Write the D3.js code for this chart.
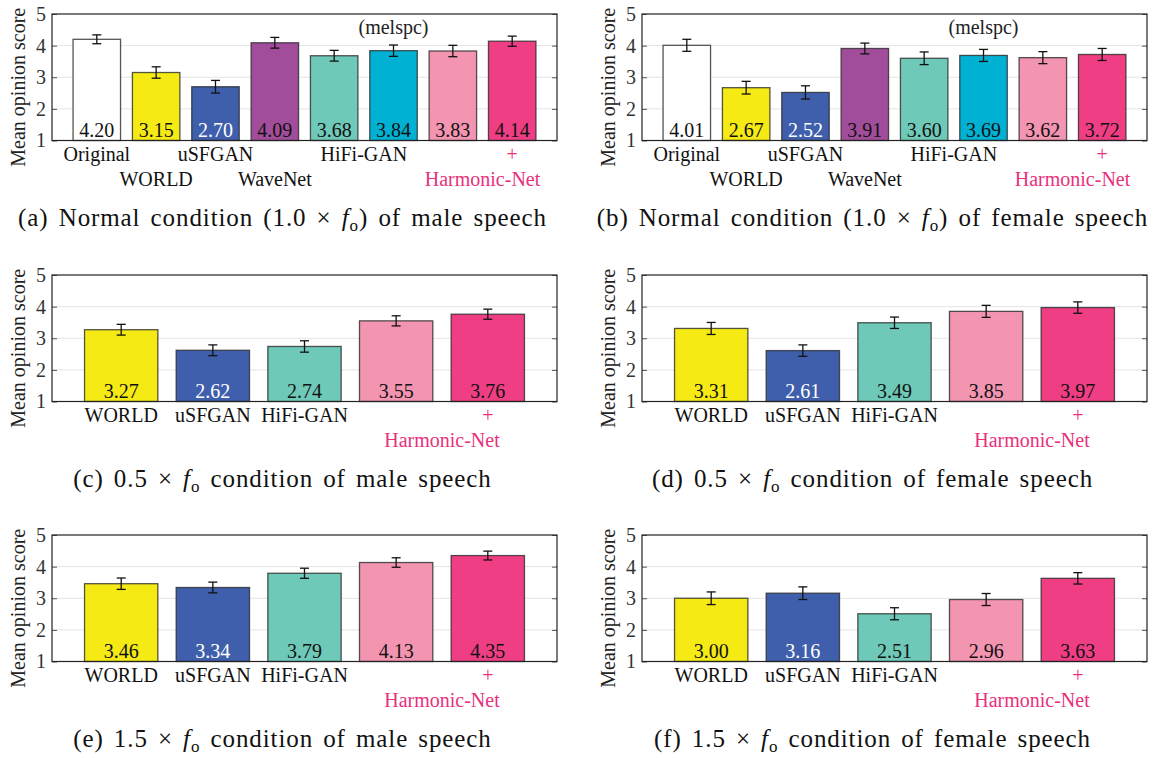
<!DOCTYPE html>
<html>
<head>
<meta charset="utf-8">
<script src="https://cdn.jsdelivr.net/npm/d3@7"></script>
<style>
  html, body { margin: 0; padding: 0; background: #fff; }
  svg { display: block; }
  text { font-family: "Liberation Serif", "Times New Roman", serif; }
</style>
</head>
<body>
<svg id="chart" width="1155" height="758"></svg>
<script>
// ---------- DATA ----------
const methods8 = ["Original", "WORLD", "uSFGAN", "WaveNet", "HiFi-GAN", "HiFi-GAN (melspc)", "Harmonic-Net", "Harmonic-Net+"];
const methods5 = ["WORLD", "uSFGAN", "HiFi-GAN", "Harmonic-Net", "Harmonic-Net+"];

const scoresA = [4.20, 3.15, 2.70, 4.09, 3.68, 3.84, 3.83, 4.14];
const errA    = [0.14, 0.18, 0.20, 0.17, 0.17, 0.18, 0.18, 0.16];
const scoresB = [4.01, 2.67, 2.52, 3.91, 3.60, 3.69, 3.62, 3.72];
const errB    = [0.19, 0.20, 0.21, 0.17, 0.20, 0.19, 0.19, 0.19];
const scoresC = [3.27, 2.62, 2.74, 3.55, 3.76];
const errC    = [0.17, 0.17, 0.18, 0.16, 0.16];
const scoresD = [3.31, 2.61, 3.49, 3.85, 3.97];
const errD    = [0.19, 0.18, 0.18, 0.19, 0.18];
const scoresE = [3.46, 3.34, 3.79, 4.13, 4.35];
const errE    = [0.18, 0.17, 0.16, 0.15, 0.14];
const scoresF = [3.00, 3.16, 2.51, 2.96, 3.63];
const errF    = [0.20, 0.20, 0.19, 0.19, 0.18];

const yTicks = [1, 2, 3, 4, 5];
const yLabel = "Mean opinion score";

// x-axis labels: [text, position (bar index, may be fractional), row, highlighted]
const xLabels8 = [
  ["Original", 0, 1, false], ["WORLD", 1, 2, false], ["uSFGAN", 2, 1, false],
  ["WaveNet", 3, 2, false], ["HiFi-GAN", 4.5, 1, false], ["+", 7, 1, true],
  ["Harmonic-Net", 6.5, 2, true]
];
const xLabels5 = [
  ["WORLD", 0, 1, false], ["uSFGAN", 1, 1, false], ["HiFi-GAN", 2, 1, false],
  ["+", 4, 1, true], ["Harmonic-Net", 3.5, 2, true]
];

const captions = [
  ["(a) Normal condition (1.0 × ", ") of male speech"],
  ["(b) Normal condition (1.0 × ", ") of female speech"],
  ["(c) 0.5 × ", " condition of male speech"],
  ["(d) 0.5 × ", " condition of female speech"],
  ["(e) 1.5 × ", " condition of male speech"],
  ["(f) 1.5 × ", " condition of female speech"]
];

// ---------- STYLE ----------
const colors = {
  "Original": "#ffffff",
  "WORLD": "#f5ea14",
  "uSFGAN": "#3f5fac",
  "WaveNet": "#a24d9b",
  "HiFi-GAN": "#6ec9b8",
  "HiFi-GAN (melspc)": "#00b1d3",
  "Harmonic-Net": "#f394b1",
  "Harmonic-Net+": "#ef3e83"
};
const whiteText = new Set(["uSFGAN"]);
const pink = "#e8307c";

const panels = [
  { cats: methods8, vals: scoresA, errs: errA, labels: xLabels8, col: 0, row: 0, note: true },
  { cats: methods8, vals: scoresB, errs: errB, labels: xLabels8, col: 1, row: 0, note: true },
  { cats: methods5, vals: scoresC, errs: errC, labels: xLabels5, col: 0, row: 1 },
  { cats: methods5, vals: scoresD, errs: errD, labels: xLabels5, col: 1, row: 1 },
  { cats: methods5, vals: scoresE, errs: errE, labels: xLabels5, col: 0, row: 2 },
  { cats: methods5, vals: scoresF, errs: errF, labels: xLabels5, col: 1, row: 2 }
];

const colX = [52, 642];
const plotW = 505;
const rowY = [14, 275, 535];
const plotH = 126.5;

const svg = d3.select("#chart");

panels.forEach((p, idx) => {
  const x0 = colX[p.col], y0 = rowY[p.row];
  const g = svg.append("g").attr("transform", `translate(${x0},${y0})`);

  const x = d3.scaleBand().domain(p.cats).range([0, plotW]).paddingInner(0.2).paddingOuter(0.355);
  const y = d3.scaleLinear().domain([1, 5]).range([plotH, 0]);
  const bw = x.bandwidth();
  const posOf = i => x(p.cats[0]) + bw / 2 + i * x.step();

  // gridlines
  g.append("g").selectAll("line").data(yTicks.slice(1, -1)).join("line")
    .attr("x1", 0).attr("x2", plotW)
    .attr("y1", d => y(d)).attr("y2", d => y(d))
    .attr("stroke", "#e4e4e4").attr("stroke-width", 1);

  // bars
  const data = p.cats.map((c, i) => ({ c, v: p.vals[i], e: p.errs[i] }));
  g.append("g").selectAll("rect").data(data).join("rect")
    .attr("x", d => x(d.c)).attr("width", bw)
    .attr("y", d => y(d.v)).attr("height", d => y(1) - y(d.v))
    .attr("fill", d => colors[d.c])
    .attr("stroke", "#2a2a2a").attr("stroke-opacity", 0.8).attr("stroke-width", 1.3);

  // error bars
  const eg = g.append("g").attr("stroke", "#111").attr("stroke-width", 1.3);
  data.forEach(d => {
    const cx = x(d.c) + bw / 2;
    eg.append("line").attr("x1", cx).attr("x2", cx).attr("y1", y(d.v + d.e)).attr("y2", y(d.v - d.e));
    eg.append("line").attr("x1", cx - 4.5).attr("x2", cx + 4.5).attr("y1", y(d.v + d.e)).attr("y2", y(d.v + d.e));
    eg.append("line").attr("x1", cx - 4.5).attr("x2", cx + 4.5).attr("y1", y(d.v - d.e)).attr("y2", y(d.v - d.e));
  });

  // value labels
  g.append("g").selectAll("text").data(data).join("text")
    .attr("x", d => x(d.c) + bw / 2).attr("y", plotH - 4)
    .attr("text-anchor", "middle").attr("font-size", 20)
    .attr("fill", d => whiteText.has(d.c) ? "#ffffff" : "#111")
    .text(d => d.v.toFixed(2));

  // axes (inward ticks)
  const left = g.append("g").call(d3.axisLeft(y).tickValues(yTicks).tickFormat(d3.format("d"))
    .tickSizeInner(-5).tickSizeOuter(0).tickPadding(6));
  left.select(".domain").remove();
  left.selectAll(".tick line").attr("stroke", "#555");
  left.selectAll(".tick text").attr("font-size", 20).attr("fill", "#333")
    .attr("font-family", "Liberation Serif, serif");
  const right = g.append("g").attr("transform", `translate(${plotW},0)`)
    .call(d3.axisRight(y).tickValues(yTicks).tickSizeInner(-5).tickSizeOuter(0).tickFormat(""));
  right.select(".domain").remove();
  right.selectAll(".tick line").attr("stroke", "#555");

  // frame
  g.append("rect").attr("x", 0).attr("y", 0).attr("width", plotW).attr("height", plotH)
    .attr("fill", "none").attr("stroke", "#222").attr("stroke-width", 1.2);

  // x labels
  g.append("g").selectAll("text").data(p.labels).join("text")
    .attr("x", d => posOf(d[1]))
    .attr("y", d => plotH + (d[2] === 1 ? 20 : 45))
    .attr("text-anchor", "middle").attr("font-size", 20)
    .attr("fill", d => d[3] ? pink : "#111")
    .text(d => d[0]);

  // note
  if (p.note) {
    g.append("text").attr("x", posOf(5)).attr("y", 20)
      .attr("text-anchor", "middle").attr("font-size", 20).attr("fill", "#222")
      .text("(melspc)");
  }

  // y title
  g.append("text")
    .attr("transform", `translate(${-27},${plotH / 2 + 10}) rotate(-90)`)
    .attr("text-anchor", "middle").attr("font-size", 20).attr("fill", "#222")
    .text(yLabel);

  // caption
  const cap = g.append("text")
    .attr("x", plotW / 2 - 22).attr("y", plotH + 85)
    .attr("text-anchor", "middle").attr("font-size", 25)
    .attr("letter-spacing", 0.9).attr("word-spacing", 3).attr("fill", "#111");
  cap.append("tspan").text(captions[idx][0]);
  cap.append("tspan").attr("font-style", "italic").text("f");
  cap.append("tspan").attr("font-size", 17).attr("dy", 5).text("o");
  cap.append("tspan").attr("dy", -5).text(captions[idx][1]);
});
</script>
</body>
</html>
